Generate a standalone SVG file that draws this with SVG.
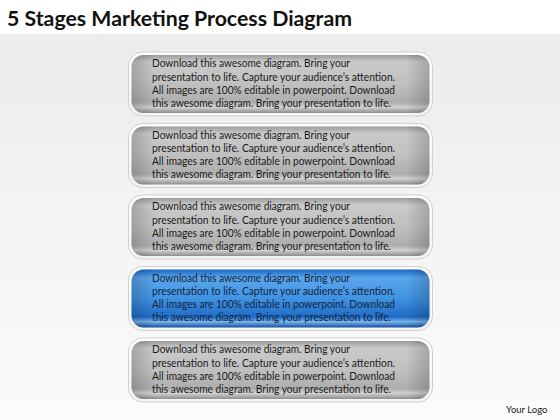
<svg xmlns="http://www.w3.org/2000/svg" width="560" height="420" viewBox="0 0 560 420">
<defs>
<linearGradient id="bg" x1="0" y1="0" x2="0" y2="1">
<stop offset="0" stop-color="#ececec"/>
<stop offset="1" stop-color="#fbfbfb"/>
</linearGradient>
<linearGradient id="gray" x1="0" y1="0" x2="0" y2="1">
<stop offset="0" stop-color="#9c9c9c"/>
<stop offset="0.12" stop-color="#cacaca"/>
<stop offset="0.5" stop-color="#c0c0c0"/>
<stop offset="0.82" stop-color="#adadad"/>
<stop offset="0.9" stop-color="#d2d2d2"/>
<stop offset="1" stop-color="#8e8e8e"/>
</linearGradient>
<linearGradient id="blue" x1="0" y1="0" x2="0" y2="1">
<stop offset="0" stop-color="#1a66c2"/>
<stop offset="0.14" stop-color="#5aa6ec"/>
<stop offset="0.5" stop-color="#3f93e2"/>
<stop offset="0.82" stop-color="#1f6bc6"/>
<stop offset="0.9" stop-color="#7ab6ee"/>
<stop offset="1" stop-color="#154f9e"/>
</linearGradient>
<linearGradient id="side" x1="0" y1="0" x2="1" y2="0">
<stop offset="0" stop-color="#000" stop-opacity="0.18"/>
<stop offset="0.08" stop-color="#000" stop-opacity="0"/>
<stop offset="0.92" stop-color="#000" stop-opacity="0"/>
<stop offset="1" stop-color="#000" stop-opacity="0.18"/>
</linearGradient>
<linearGradient id="rim" x1="0" y1="0" x2="0" y2="1">
<stop offset="0" stop-color="#ffffff"/>
<stop offset="1" stop-color="#f4f4f4"/>
</linearGradient>
</defs>
<style>
.t{font-family:Lato,"Open Sans","Liberation Sans",sans-serif;font-size:10.8px;fill:#1a1a1a}
.tb{fill:#14223a}
.title{font-family:Lato,"Liberation Sans",sans-serif;font-size:20px;font-weight:bold;fill:#111}
.rim{fill:url(#rim);stroke:#cfcfcf;stroke-width:1}
.g{fill:url(#gray)}
.b{fill:url(#blue)}
.s{fill:url(#side)}
.logo{font-family:Lato,"Liberation Sans",sans-serif;font-size:9.5px;fill:#222}
</style>
<rect x="0" y="0" width="560" height="420" fill="#ffffff"/>
<rect x="0" y="34" width="560" height="386" fill="url(#bg)"/>
<text class="title" x="7" y="26" textLength="345" lengthAdjust="spacingAndGlyphs">5 Stages Marketing Process Diagram</text>

<g id="stage1">
<rect class="rim" x="128.5" y="52" width="304" height="64" rx="14"/>
<rect class="g" x="131.5" y="55" width="298" height="58" rx="12"/>
<rect class="s" x="131.5" y="55" width="298" height="58" rx="12"/>
<text class="t" x="152" y="67" textLength="198" lengthAdjust="spacingAndGlyphs">Download this awesome diagram. Bring your</text>
<text class="t" x="152" y="80.5" textLength="243" lengthAdjust="spacingAndGlyphs">presentation to life. Capture your audience’s attention.</text>
<text class="t" x="152" y="93.5" textLength="243" lengthAdjust="spacingAndGlyphs">All images are 100% editable in powerpoint. Download</text>
<text class="t" x="152" y="106.5" textLength="239" lengthAdjust="spacingAndGlyphs">this awesome diagram. Bring your presentation to life.</text>
</g>

<g id="stage2">
<rect class="rim" x="128.5" y="123.5" width="304" height="64" rx="14"/>
<rect class="g" x="131.5" y="126.5" width="298" height="58" rx="12"/>
<rect class="s" x="131.5" y="126.5" width="298" height="58" rx="12"/>
<text class="t" x="152" y="138.5" textLength="198" lengthAdjust="spacingAndGlyphs">Download this awesome diagram. Bring your</text>
<text class="t" x="152" y="152" textLength="243" lengthAdjust="spacingAndGlyphs">presentation to life. Capture your audience’s attention.</text>
<text class="t" x="152" y="165" textLength="243" lengthAdjust="spacingAndGlyphs">All images are 100% editable in powerpoint. Download</text>
<text class="t" x="152" y="178" textLength="239" lengthAdjust="spacingAndGlyphs">this awesome diagram. Bring your presentation to life.</text>
</g>

<g id="stage3">
<rect class="rim" x="128.5" y="195" width="304" height="64" rx="14"/>
<rect class="g" x="131.5" y="198" width="298" height="58" rx="12"/>
<rect class="s" x="131.5" y="198" width="298" height="58" rx="12"/>
<text class="t" x="152" y="210" textLength="198" lengthAdjust="spacingAndGlyphs">Download this awesome diagram. Bring your</text>
<text class="t" x="152" y="223.5" textLength="243" lengthAdjust="spacingAndGlyphs">presentation to life. Capture your audience’s attention.</text>
<text class="t" x="152" y="236.5" textLength="243" lengthAdjust="spacingAndGlyphs">All images are 100% editable in powerpoint. Download</text>
<text class="t" x="152" y="249.5" textLength="239" lengthAdjust="spacingAndGlyphs">this awesome diagram. Bring your presentation to life.</text>
</g>

<g id="stage4">
<rect class="rim" x="128.5" y="266.5" width="304" height="64" rx="14"/>
<rect class="b" x="131.5" y="269.5" width="298" height="58" rx="12"/>
<rect class="s" x="131.5" y="269.5" width="298" height="58" rx="12"/>
<text class="t tb" x="152" y="281.5" textLength="198" lengthAdjust="spacingAndGlyphs">Download this awesome diagram. Bring your</text>
<text class="t tb" x="152" y="295" textLength="243" lengthAdjust="spacingAndGlyphs">presentation to life. Capture your audience’s attention.</text>
<text class="t tb" x="152" y="308" textLength="243" lengthAdjust="spacingAndGlyphs">All images are 100% editable in powerpoint. Download</text>
<text class="t tb" x="152" y="321" textLength="239" lengthAdjust="spacingAndGlyphs">this awesome diagram. Bring your presentation to life.</text>
</g>

<g id="stage5">
<rect class="rim" x="128.5" y="338" width="304" height="64" rx="14"/>
<rect class="g" x="131.5" y="341" width="298" height="58" rx="12"/>
<rect class="s" x="131.5" y="341" width="298" height="58" rx="12"/>
<text class="t" x="152" y="353" textLength="198" lengthAdjust="spacingAndGlyphs">Download this awesome diagram. Bring your</text>
<text class="t" x="152" y="366.5" textLength="243" lengthAdjust="spacingAndGlyphs">presentation to life. Capture your audience’s attention.</text>
<text class="t" x="152" y="379.5" textLength="243" lengthAdjust="spacingAndGlyphs">All images are 100% editable in powerpoint. Download</text>
<text class="t" x="152" y="392.5" textLength="239" lengthAdjust="spacingAndGlyphs">this awesome diagram. Bring your presentation to life.</text>
</g>

<g id="connectors"></g>
<text class="logo" x="506" y="413">Your Logo</text>
</svg>
